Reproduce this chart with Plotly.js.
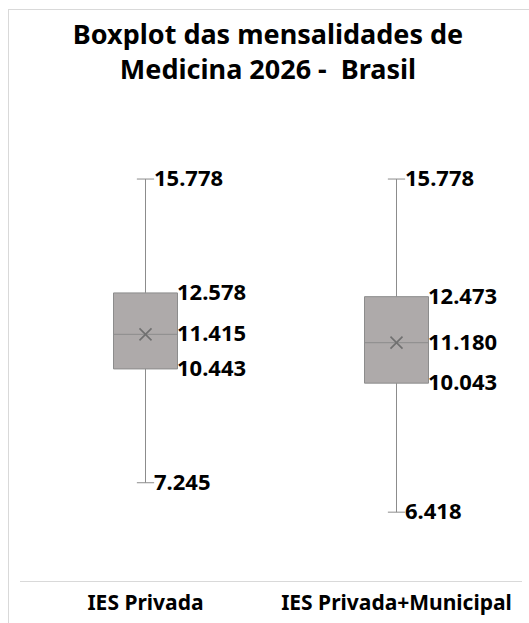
<!DOCTYPE html>
<html>
<head>
<meta charset="utf-8">
<script src="https://cdn.plot.ly/plotly-3.0.1.min.js"></script>
<style>
  html, body { margin: 0; padding: 0; background: #ffffff; }
  #frame { position: absolute; left: 8px; top: 9px; width: 600px; height: 700px; border: 1px solid #d9d9d9; }
  #chart { position: absolute; left: 0; top: 0; width: 529px; height: 623px; }
</style>
</head>
<body>
<div id="frame"></div>
<div id="chart"></div>
<script>
const categories = ['IES Privada', 'IES Privada+Municipal'];
const minValues = [7245, 6418];
const q1Values = [10443, 10043];
const medianValues = [11415, 11180];
const q3Values = [12578, 12473];
const maxValues = [15778, 15778];
const meanValues = [11415, 11180];

function fmt(v) {
  return String(v).replace(/\B(?=(\d{3})+(?!\d))/g, '.');
}

const FONT = '"Noto Sans", "DejaVu Sans", sans-serif';

const boxTrace = {
  type: 'box',
  x: categories,
  lowerfence: minValues,
  q1: q1Values,
  median: medianValues,
  q3: q3Values,
  upperfence: maxValues,
  width: 0.255,
  whiskerwidth: 0.27,
  fillcolor: '#aeaaaa',
  line: { color: '#8c8c8c', width: 1 },
  boxpoints: false,
  hoverinfo: 'skip',
  showlegend: false
};

const meanTrace = {
  type: 'scatter',
  mode: 'markers',
  x: categories,
  y: meanValues,
  marker: { symbol: 'x-thin-open', size: 12, line: { color: '#707070', width: 1.6 }, color: '#707070' },
  hoverinfo: 'skip',
  showlegend: false
};

const annotations = [];
categories.forEach((c, i) => {
  const items = [
    [maxValues[i], 6],
    [q3Values[i], 29],
    [medianValues[i], 29],
    [q1Values[i], 29],
    [minValues[i], 6]
  ];
  items.forEach(([v, sh]) => {
    annotations.push({
      x: c, y: v, xref: 'x', yref: 'y',
      text: fmt(v), showarrow: false,
      xanchor: 'left', yanchor: 'middle', xshift: sh, yshift: 2,
      font: { family: FONT, size: 22, color: '#000000', weight: 'bold' }
    });
  });
});

const layout = {
  width: 529, height: 623,
  margin: { l: 20, r: 7, t: 140, b: 42 },
  paper_bgcolor: 'rgba(0,0,0,0)',
  plot_bgcolor: 'rgba(0,0,0,0)',
  title: {
    text: 'Boxplot das mensalidades de<br>Medicina 2026 -\u00a0 Brasil',
    font: { family: FONT, size: 27, color: '#000000', weight: 'bold' },
    x: 268 / 529, xanchor: 'center', xref: 'container',
    y: 1 - 44 / 623, yanchor: 'top', yref: 'container'
  },
  xaxis: {
    type: 'category',
    range: [-0.5, 1.5],
    showline: true, linecolor: '#d9d9d9', linewidth: 1,
    showgrid: false, zeroline: false, ticks: '',
    tickfont: { family: FONT, size: 21, color: '#000000', weight: 'bold' },
    ticklabelstandoff: 3,
    fixedrange: true
  },
  yaxis: {
    range: [4484, 16875],
    visible: false, showgrid: false, zeroline: false,
    fixedrange: true
  },
  annotations: annotations,
  showlegend: false
};

Plotly.newPlot('chart', [boxTrace, meanTrace], layout, { displayModeBar: false, staticPlot: true });
</script>
</body>
</html>
